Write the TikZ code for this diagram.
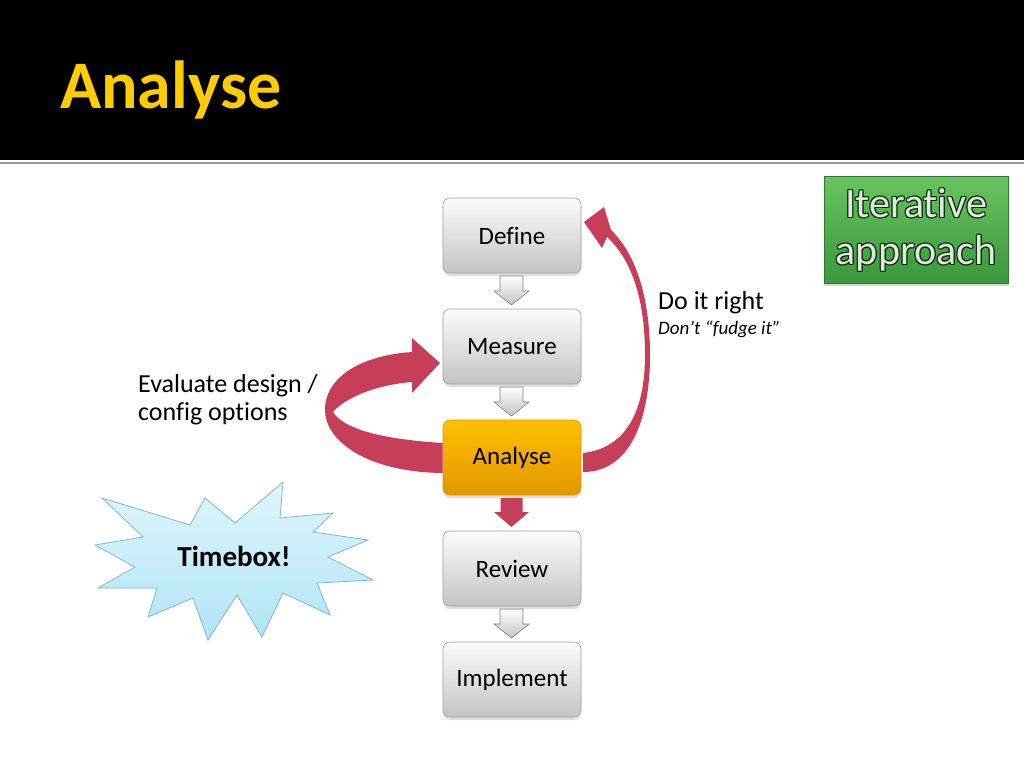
\documentclass[tikz,border=0pt]{standalone}
\usepackage{fontspec}
\setmainfont[RawFeature=-liga]{Carlito}
\usetikzlibrary{shadows,calc}
\definecolor{ribbon}{RGB}{199,62,88}
\definecolor{titleyellow}{RGB}{255,204,0}
\definecolor{boxtop}{RGB}{252,252,252}
\definecolor{boxbot}{RGB}{196,196,196}
\definecolor{boxline}{RGB}{160,160,160}
\definecolor{orangetop}{RGB}{255,192,0}
\definecolor{orangebot}{RGB}{226,150,0}
\definecolor{greentop}{RGB}{104,196,96}
\definecolor{greenbot}{RGB}{60,150,60}
\definecolor{starfilltop}{RGB}{224,246,253}
\definecolor{starfillbot}{RGB}{176,228,246}
\definecolor{starline}{RGB}{128,184,208}
\tikzset{
  stepbox/.style={draw=boxline, line width=0.6pt, rounded corners=7pt,
    top color=boxtop, bottom color=boxbot, minimum width=138pt, minimum height=75pt,
    inner sep=0pt, font=\fontsize{25}{28}\selectfont,
    drop shadow={shadow xshift=0pt, shadow yshift=-3pt, opacity=0.25}},
  hotbox/.style={stepbox, draw=orangebot, top color=orangetop, bottom color=orangebot},
  greyarrow/.style={draw=boxline!80!black, line width=0.6pt, top color=white, bottom color=boxbot},
  redarrow/.style={fill=ribbon, draw=none},
  label/.style={inner sep=0pt, font=\fontsize{26}{28}\selectfont},
}
\begin{document}
\begin{tikzpicture}[x=1pt,y=-1pt]
\useasboundingbox (0,0) rectangle (1024,768);
\fill[white] (0,0) rectangle (1024,768);
% header
\fill[black] (0,0) rectangle (1024,160);
\fill[black!40] (0,161.5) rectangle (1024,164);
\node[anchor=base west, inner sep=0pt, text=titleyellow, font=\bfseries\fontsize{68}{72}\selectfont] (title) at (60,108) {Analyse};

% green box
\node[draw=greenbot!80!black, line width=0.6pt, top color=greentop, bottom color=greenbot,
  minimum width=184pt, minimum height=107pt, inner sep=0pt,
  drop shadow={shadow xshift=0pt, shadow yshift=-3pt, opacity=0.3}] (iter) at (916,229.5) {};
\foreach \dx/\dy in {-1/0,1/0,0/-1,0/1,1/1,-1/-1,1/-1,-1/1}{
  \node[text=black!70!green!60!black, font=\fontsize{42}{47}\selectfont, align=center, inner sep=0pt]
    at ($(iter.center)+(\dx,\dy)$) {Iterative\\approach};
}
\node[text=black!10, font=\fontsize{42}{47}\selectfont, align=center, inner sep=0pt] (itertext)
  at (iter.center) {Iterative\\approach};

% flow boxes
\node[stepbox] (define) at (512,235.5) {Define};
\node[stepbox] (measure) at (512,346.5) {Measure};
\node[hotbox] (analyse) at (512,457.5) {Analyse};
\node[stepbox] (review) at (512,568.5) {Review};
\node[stepbox] (implement) at (512,679.5) {Implement};

% block arrows between boxes
\foreach \ya in {276,387,609}{
  \begin{scope}[shift={(511.5,\ya)}]
    \path[greyarrow] (-11.5,0) -- (11.5,0) -- (11.5,15) -- (17.5,15) -- (0,29) -- (-17.5,15) -- (-11.5,15) -- cycle;
  \end{scope}
}
\begin{scope}[shift={(511.5,498)}]
  \path[redarrow] (-11,0) -- (11,0) -- (11,14) -- (17.5,14) -- (0,29) -- (-17.5,14) -- (-11,14) -- cycle;
\end{scope}

% left ribbon loop: analyse -> measure
\coordinate (lstart) at ($(analyse.west)+(0,-14.5)$);
\coordinate (lend) at ($(analyse.west)+(0,15.5)$);
\fill[ribbon] (lstart)
  .. controls (395,440) and (345,432) .. (333,412)
  .. controls (345,398) and (375,385) .. (412,382)
  -- (412,393) -- (440,363) -- (412,338) -- (412,352)
  .. controls (365,355) and (325,375) .. (325,410)
  .. controls (325,440) and (365,472) .. (lend) -- cycle;

% right ribbon loop: analyse -> define
\fill[ribbon] (583,453)
  .. controls (627,448) and (645,410) .. (645,355)
  .. controls (645,300) and (632,260) .. (607,237)
  -- (602,248) -- (584,222) -- (604,207) -- (611,230)
  .. controls (637,255) and (650,300) .. (650,355)
  .. controls (650,420) and (630,472) .. (583,472) -- cycle;

% labels
\node[label, anchor=base west] (evalA) at (138,392) {Evaluate design /};
\node[label, anchor=base west] (evalB) at (138,420) {config options};
\node[label, anchor=base west] (right) at (658,309) {Do it right};
\node[anchor=base west, inner sep=0pt, font=\itshape\fontsize{19}{22}\selectfont] (fudge) at (658,334) {Don’t “fudge it”};

% starburst
\path[draw=starline, line width=0.8pt, top color=starfilltop, bottom color=starfillbot]
  (102,498) -- (190,525) -- (205,498) -- (235,523) -- (283,482) -- (280,518)
  -- (333,513) -- (313,532) -- (368,540) -- (328,557) -- (373,580) -- (317,583)
  -- (330,615) -- (283,593) -- (262,637) -- (237,595) -- (208,640) -- (193,598)
  -- (148,617) -- (157,588) -- (98,588) -- (135,567) -- (95,545) -- (143,537) -- cycle;
\node[inner sep=0pt, font=\bfseries\fontsize{29}{32}\selectfont] (timebox) at (234,556) {Timebox!};
\end{tikzpicture}
\end{document}
